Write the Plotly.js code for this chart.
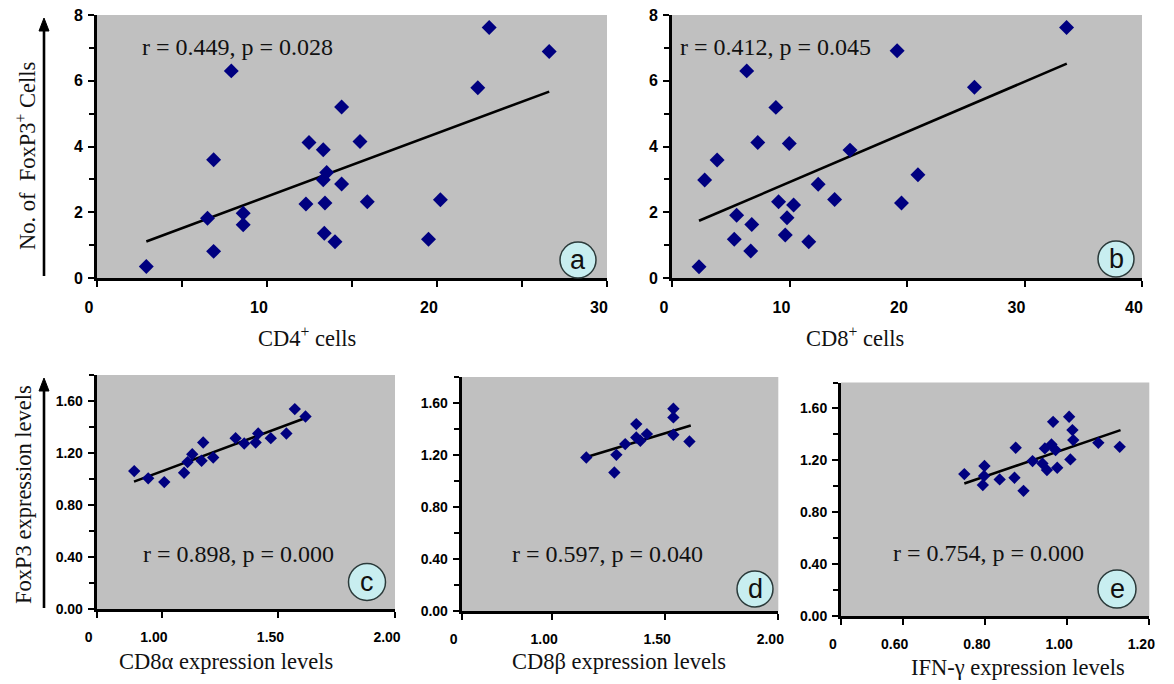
<!DOCTYPE html>
<html>
<head>
<meta charset="utf-8">
<script src="https://cdn.plot.ly/plotly-3.0.1.min.js"></script>
<style>html,body{margin:0;padding:0;background:#fff;}#chart{width:1174px;height:684px;}</style>
</head>
<body>
<div id="chart"></div>
<script>
// ---- data ----
const aX = [2.9, 6.5, 6.86, 6.86, 7.9, 8.6, 8.6, 12.29, 12.47, 13.31, 13.31, 13.51, 13.41, 13.37, 14.0, 14.39, 14.39, 15.47, 15.9, 19.5, 20.2, 22.4, 23.07, 26.6];
const aY = [0.35, 1.82, 3.6, 0.81, 6.3, 1.97, 1.62, 2.25, 4.12, 3.90, 2.99, 3.21, 2.28, 1.36, 1.10, 5.20, 2.86, 4.15, 2.32, 1.18, 2.38, 5.79, 7.62, 6.89];
const aTrendX = [2.9, 26.6];
const aTrendY = [1.11, 5.67];

const bX = [2.30, 2.78, 3.84, 5.3, 5.5, 6.36, 6.70, 6.79, 7.30, 8.84, 9.07, 9.64, 9.79, 9.98, 10.35, 11.64, 12.44, 13.84, 15.15, 19.16, 19.53, 20.93, 25.74, 33.58];
const bY = [0.34, 2.98, 3.59, 1.18, 1.91, 6.3, 0.82, 1.63, 4.12, 5.19, 2.32, 1.31, 1.83, 4.09, 2.22, 1.10, 2.85, 2.39, 3.89, 6.91, 2.28, 3.14, 5.8, 7.62];
const bTrendX = [2.3, 33.6];
const bTrendY = [1.74, 6.52];

const cX = [0.881, 0.941, 1.010, 1.095, 1.11, 1.13, 1.17, 1.177, 1.22, 1.316, 1.353, 1.402, 1.413, 1.467, 1.534, 1.570, 1.616];
const cY = [1.061, 1.005, 0.976, 1.048, 1.13, 1.19, 1.14, 1.281, 1.165, 1.314, 1.273, 1.281, 1.350, 1.314, 1.350, 1.538, 1.481];
const cTrendX = [0.88, 1.61];
const cTrendY = [0.98, 1.465];

const dX = [1.151, 1.275, 1.284, 1.323, 1.372, 1.372, 1.39, 1.419, 1.536, 1.536, 1.536, 1.607];
const dY = [1.181, 1.065, 1.201, 1.284, 1.438, 1.335, 1.31, 1.361, 1.556, 1.489, 1.356, 1.304];
const dTrendX = [1.16, 1.613];
const dTrendY = [1.188, 1.427];

const eX = [0.750, 0.795, 0.798, 0.799, 0.836, 0.872, 0.875, 0.894, 0.916, 0.940, 0.946, 0.951, 0.962, 0.966, 0.972, 0.976, 1.005, 1.008, 1.013, 1.015, 1.076, 1.128];
const eY = [1.094, 1.009, 1.079, 1.156, 1.053, 1.066, 1.297, 0.965, 1.194, 1.176, 1.292, 1.125, 1.323, 1.497, 1.279, 1.143, 1.536, 1.207, 1.433, 1.356, 1.335, 1.304];
const eTrendX = [0.75, 1.13];
const eTrendY = [1.022, 1.433];

const statTexts = ["r = 0.449, p = 0.028", "r = 0.412, p = 0.045", "r = 0.898, p = 0.000", "r = 0.597, p = 0.040", "r = 0.754, p = 0.000"];
const panelLetters = ["a", "b", "c", "d", "e"];
const xTitles = ["CD4<sup>+</sup> cells", "CD8<sup>+</sup> cells", "CD8α expression levels", "CD8β expression levels", "IFN-γ expression levels"];
const yTitleTop = "No. of  FoxP3<sup>+</sup> Cells";
const yTitleBottom = "FoxP3 expression levels";

// tick labels
const aTickVals = [0, 10, 20, 30];
const aTickText = ["0", "10", "20", "30"];
const bTickVals = [0, 10, 20, 30, 40];
const bTickText = ["0", "10", "20", "30", "40"];
const topYTickVals = [0, 2, 4, 6, 8];
const topYTickText = ["0", "2", "4", "6", "8"];
const botYTickVals = [0, 0.4, 0.8, 1.2, 1.6];
const botYTickText = ["0.00", "0.40", "0.80", "1.20", "1.60"];
const cTickVals = [0.72, 1.0, 1.5, 2.0];
const cTickText = ["0", "1.00", "1.50", "2.00"];
const dTickVals = [0.6, 1.0, 1.5, 2.0];
const dTickText = ["0", "1.00", "1.50", "2.00"];
const eTickVals = [0.45, 0.6, 0.8, 1.0, 1.2];
const eTickText = ["0", "0.60", "0.80", "1.00", "1.20"];

// ---- layout helpers ----
const W = 1174, H = 684;
const px = v => v / W;
const py = v => 1 - v / H;
const bold = arr => arr.map(t => '<b>' + t + '</b>');

const NAVY = '#000080';
const serif = 'Liberation Serif, Times New Roman, serif';
const sans = 'Liberation Sans, Arial, sans-serif';

function pts(x, y, xa, ya, size) {
  return {x: x, y: y, xaxis: xa, yaxis: ya, type: 'scatter', mode: 'markers',
    marker: {symbol: 'diamond', size: size, color: NAVY, line: {width: 0}}, hoverinfo: 'x+y'};
}
function trend(x, y, xa, ya) {
  return {x: x, y: y, xaxis: xa, yaxis: ya, type: 'scatter', mode: 'lines',
    line: {color: '#000', width: 2.6}, hoverinfo: 'skip'};
}

const data = [
  trend(aTrendX, aTrendY, 'x', 'y'), pts(aX, aY, 'x', 'y', 11.5),
  trend(bTrendX, bTrendY, 'x2', 'y2'), pts(bX, bY, 'x2', 'y2', 11.5),
  trend(cTrendX, cTrendY, 'x3', 'y3'), pts(cX, cY, 'x3', 'y3', 9.5),
  trend(dTrendX, dTrendY, 'x4', 'y4'), pts(dX, dY, 'x4', 'y4', 9.5),
  trend(eTrendX, eTrendY, 'x5', 'y5'), pts(eX, eY, 'x5', 'y5', 9.5)
];

function axis(domain, range, anchor, vals, text, fsize, isX, minor) {
  const ax = {
    domain: domain, range: range, anchor: anchor, showgrid: false, zeroline: false,
    showline: true, linecolor: '#000', linewidth: 3, ticks: 'outside', ticklen: 6, tickwidth: 2,
    tickcolor: '#000', tickmode: 'array', tickvals: vals, ticktext: bold(text),
    tickfont: {family: sans, size: fsize, color: '#000'}, fixedrange: true
  };
  if (isX) { ax.ticklabelshift = -8; ax.ticklabelstandoff = 7; }
  else { ax.ticklabelstandoff = 2; }
  if (minor) ax.minor = {dtick: minor, tick0: 0, ticks: 'outside', ticklen: isX ? 6 : 5, tickwidth: 2, tickcolor: '#000'};
  return ax;
}

const topYDom = [py(278), py(15)];
const layout = {
  width: W, height: H, margin: {l: 0, r: 0, t: 0, b: 0},
  paper_bgcolor: '#fff', plot_bgcolor: '#c0c0c0', showlegend: false,
  xaxis: axis([px(97), px(607)], [0, 30], 'y', aTickVals, aTickText, 16, true, 5),
  yaxis: axis(topYDom, [0, 8], 'x', topYTickVals, topYTickText, 16, false, 1),
  xaxis2: axis([px(672), px(1142)], [0, 40], 'y2', bTickVals, bTickText, 16, true, null),
  yaxis2: axis(topYDom, [0, 8], 'x2', topYTickVals, topYTickText, 16, false, 1),
  xaxis3: axis([px(96.7), px(395)], [0.72, 2.0], 'y3', cTickVals, cTickText, 14, true, null),
  yaxis3: axis([py(609), py(375)], [0, 1.8], 'x3', botYTickVals, botYTickText, 14, false, 0.2),
  xaxis4: axis([px(461.7), px(778.3)], [0.6, 2.0], 'y4', dTickVals, dTickText, 14, true, null),
  yaxis4: axis([py(611), py(377)], [0, 1.8], 'x4', botYTickVals, botYTickText, 14, false, 0.2),
  xaxis5: axis([px(841), px(1149.3)], [0.45, 1.2], 'y5', eTickVals, eTickText, 14, true, null),
  yaxis5: axis([py(616), py(382.5)], [0, 1.8], 'x5', botYTickVals, botYTickText, 14, false, 0.2),
  annotations: [],
  shapes: []
};

// stat texts
const statPos = [[237, 47], [775, 47], [238, 554], [607, 554], [988, 553]];
statPos.forEach((p, i) => layout.annotations.push({
  xref: 'paper', yref: 'paper', x: px(p[0]), y: py(p[1]), xanchor: 'center', yanchor: 'middle',
  text: statTexts[i], showarrow: false, font: {family: serif, size: 24, color: '#111'}
}));

// x-axis titles
const xtPos = [[307, 337], [855, 337], [226, 661], [619, 661], [1018, 667]];
xtPos.forEach((p, i) => layout.annotations.push({
  xref: 'paper', yref: 'paper', x: px(p[0]), y: py(p[1]), xanchor: 'center', yanchor: 'middle',
  text: xTitles[i], showarrow: false, font: {family: serif, size: 22.5, color: '#111'}
}));

// y-axis titles (rotated)
layout.annotations.push({xref: 'paper', yref: 'paper', x: px(26), y: py(156), xanchor: 'center', yanchor: 'middle',
  text: yTitleTop, textangle: -90, showarrow: false, font: {family: serif, size: 22.5, color: '#111'}});
layout.annotations.push({xref: 'paper', yref: 'paper', x: px(23), y: py(495), xanchor: 'center', yanchor: 'middle',
  text: yTitleBottom, textangle: -90, showarrow: false, font: {family: serif, size: 22.5, color: '#111'}});

// arrows beside the y titles (line + triangular head)
[[44, 18, 276], [44, 378, 608]].forEach(a => {
  const x = a[0], tip = a[1], bot = a[2];
  layout.shapes.push({type: 'line', xref: 'paper', yref: 'paper', x0: px(x), x1: px(x), y0: py(bot), y1: py(tip + 10),
    line: {color: '#000', width: 2.6}});
  layout.shapes.push({type: 'path', xref: 'paper', yref: 'paper',
    path: `M ${px(x)} ${py(tip)} L ${px(x - 5)} ${py(tip + 13)} L ${px(x + 5)} ${py(tip + 13)} Z`,
    fillcolor: '#000', line: {color: '#000', width: 1}});
});

// panel letter circles
const circ = [[578, 260, 18], [1116, 259, 18], [367, 582, 18.5], [755, 589, 18], [1117, 589, 19]];
circ.forEach((c, i) => {
  layout.shapes.push({type: 'circle', xref: 'paper', yref: 'paper',
    x0: px(c[0] - c[2]), x1: px(c[0] + c[2]), y0: py(c[1] + c[2]), y1: py(c[1] - c[2]),
    fillcolor: '#c8eef0', line: {color: '#2b3a3a', width: 1.5}});
  layout.annotations.push({xref: 'paper', yref: 'paper', x: px(c[0]), y: py(c[1]), xanchor: 'center', yanchor: 'middle',
    text: panelLetters[i], showarrow: false, font: {family: sans, size: 27, color: '#111'}});
});

Plotly.newPlot('chart', data, layout, {staticPlot: true, displayModeBar: false});
</script>
</body>
</html>
